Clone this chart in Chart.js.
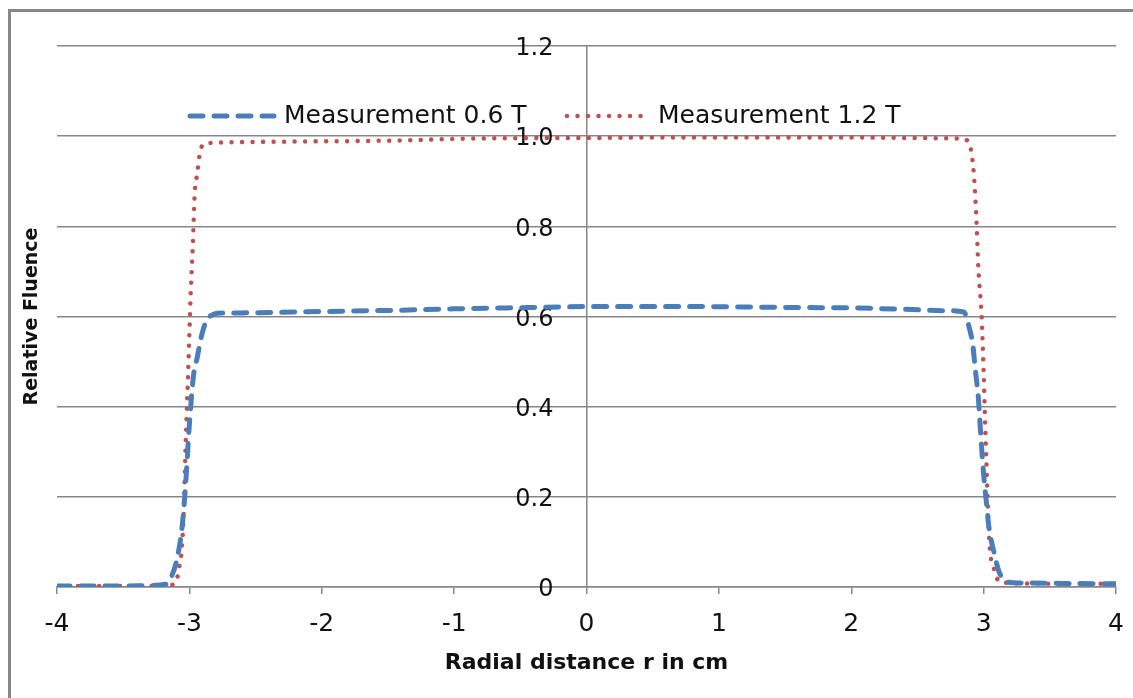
<!DOCTYPE html>
<html>
<head>
<meta charset="utf-8">
<script src="https://cdn.jsdelivr.net/npm/chart.js@4"></script>
<style>
  html, body { margin: 0; padding: 0; background: #fff; }
  #wrap { width: 1133px; height: 698px; position: relative; }
</style>
</head>
<body>
<div id="wrap"><canvas id="chart"></canvas></div>
<script>
// radial positions (cm) and relative fluence
const r06 = [-4, -3.6, -3.3, -3.18, -3.14, -3.09, -3.055, -3.03, -3.0, -2.97, -2.94, -2.91, -2.87, -2.83, -2.79,
  -2.6, -2.2, -1.8, -1.4, -1, -0.6, -0.2, 0, 0.4, 0.8, 1.2, 1.6, 2.0, 2.4, 2.7, 2.85,
  2.89, 2.92, 2.935, 2.96, 2.98, 3.0, 3.02, 3.04, 3.08, 3.12, 3.18, 3.3, 3.6, 4];
const f06 = [0.002, 0.002, 0.003, 0.006, 0.02, 0.067, 0.133, 0.22, 0.36, 0.466, 0.51, 0.555, 0.592, 0.603, 0.607,
  0.608, 0.61, 0.612, 0.614, 0.617, 0.619, 0.621, 0.622, 0.622, 0.622, 0.621, 0.62, 0.619, 0.616, 0.613, 0.61,
  0.577, 0.533, 0.488, 0.42, 0.33, 0.25, 0.19, 0.133, 0.075, 0.031, 0.011, 0.009, 0.008, 0.007];

const r12 = [-4, -3.5, -3.2, -3.1, -3.08, -3.06, -3.045, -3.03, -3.01, -2.99, -2.975, -2.96, -2.94, -2.92, -2.89, -2.85,
  -2.2, -1.5, -0.8, 0, 0.5, 1.0, 1.5, 2.0, 2.5, 2.8, 2.88,
  2.91, 2.93, 2.945, 2.96, 2.985, 3.0, 3.015, 3.03, 3.04, 3.05, 3.07, 3.12, 3.3, 3.6, 4];
const f12 = [0.002, 0.002, 0.002, 0.01, 0.04, 0.075, 0.15, 0.3, 0.47, 0.65, 0.75, 0.87, 0.918, 0.963, 0.983, 0.985,
  0.988, 0.99, 0.995, 0.996, 0.997, 0.997, 0.997, 0.997, 0.996, 0.995, 0.99,
  0.96, 0.9, 0.82, 0.71, 0.6, 0.48, 0.33, 0.2, 0.12, 0.075, 0.049, 0.011, 0.008, 0.007, 0.007];

const xTicks = [-4, -3, -2, -1, 0, 1, 2, 3, 4];
const yTicks = [0, 0.2, 0.4, 0.6, 0.8, 1, 1.2];
const seriesNames = ['Measurement 0.6 T', 'Measurement 1.2 T'];

const toPoints = (xs, ys) => xs.map((x, i) => ({ x: x, y: ys[i] }));
const grey = '#878787';
const ink = '#111';
// y labels sit a little left of the vertical axis at r = 0
const yLabelAnchor = -0.25;

// Excel-style legend drawn inline, plus the frame lines at top and left
const legendPlugin = {
  id: 'inlineLegend',
  beforeDraw(chart) {
    const ctx = chart.ctx;
    ctx.save();
    ctx.fillStyle = '#fff';
    ctx.fillRect(0, 0, chart.width, chart.height);
    ctx.strokeStyle = grey;
    ctx.lineWidth = 3;
    ctx.beginPath();
    ctx.moveTo(9.5, chart.height);
    ctx.lineTo(9.5, 10.5);
    ctx.lineTo(chart.width, 10.5);
    ctx.stroke();
    ctx.restore();
  },
  afterDraw(chart) {
    const ctx = chart.ctx;
    const y = 116;
    const items = [
      { x0: 190, x1: 274, tx: 284 },
      { x0: 567, x1: 643, tx: 658 }
    ];
    ctx.save();
    items.forEach((it, i) => {
      const ds = chart.data.datasets[i];
      ctx.strokeStyle = ds.borderColor;
      ctx.lineWidth = ds.borderWidth;
      ctx.lineCap = ds.borderCapStyle;
      ctx.setLineDash(ds.borderDash);
      ctx.beginPath();
      ctx.moveTo(it.x0, y);
      ctx.lineTo(it.x1, y);
      ctx.stroke();
      ctx.setLineDash([]);
      ctx.fillStyle = ink;
      ctx.font = '25px "DejaVu Sans"';
      ctx.textBaseline = 'middle';
      ctx.fillText(ds.label, it.tx, y);
    });
    ctx.restore();
  }
};

new Chart(document.getElementById('chart'), {
  type: 'line',
  data: {
    datasets: [
      {
        label: seriesNames[0],
        data: toPoints(r06, f06),
        borderColor: '#4a7ebb',
        borderWidth: 5,
        borderDash: [13, 11],
        borderCapStyle: 'round',
        pointRadius: 0,
        cubicInterpolationMode: 'monotone',
        yAxisID: 'y'
      },
      {
        label: seriesNames[1],
        data: toPoints(r12, f12),
        borderColor: '#c0504d',
        borderWidth: 4.5,
        borderDash: [0.01, 10.5],
        borderCapStyle: 'round',
        pointRadius: 0,
        cubicInterpolationMode: 'monotone',
        yAxisID: 'y'
      }
    ]
  },
  options: {
    responsive: true,
    maintainAspectRatio: false,
    animation: false,
    layout: { padding: { left: 0, right: 17, top: 46, bottom: 0 } },
    plugins: {
      legend: { display: false },
      tooltip: { enabled: false }
    },
    scales: {
      x: {
        type: 'linear',
        min: -4,
        max: 4,
        afterBuildTicks: s => { s.ticks = xTicks.map(v => ({ value: v })); },
        afterFit: s => { s.height = 111; s.paddingLeft = 0; s.paddingRight = 0; },
        grid: {
          drawOnChartArea: true,
          drawTicks: true,
          tickLength: 7,
          color: c => (c.tick && c.tick.value === 0 ? grey : 'rgba(0,0,0,0)'),
          tickColor: grey,
          lineWidth: 1.5
        },
        border: { display: true, color: grey, width: 1.5 },
        ticks: { color: ink, font: { family: 'DejaVu Sans', size: 25 }, padding: 15 },
        title: {
          display: true,
          text: 'Radial distance r in cm',
          color: ink,
          font: { family: 'DejaVu Sans', size: 22, weight: 'bold' },
          padding: { top: 0, bottom: 22 }
        }
      },
      y: {
        type: 'linear',
        position: { x: yLabelAnchor },
        min: 0,
        max: 1.2,
        afterBuildTicks: s => { s.ticks = yTicks.map(v => ({ value: v })); },
        grid: { color: grey, lineWidth: 1.5, drawTicks: false },
        border: { display: false },
        ticks: { color: ink, font: { family: 'DejaVu Sans', size: 24 }, padding: 0, labelOffset: 3 }
      },
      yT: {
        type: 'linear',
        position: 'left',
        afterFit: s => { s.width = 57; },
        grid: { display: false },
        border: { display: false },
        ticks: { display: false },
        title: {
          display: true,
          text: 'Relative Fluence',
          color: ink,
          font: { family: 'DejaVu Sans', size: 19, weight: 'bold' },
          padding: { top: 21, bottom: 0 }
        }
      }
    }
  },
  plugins: [legendPlugin]
});
</script>
</body>
</html>
